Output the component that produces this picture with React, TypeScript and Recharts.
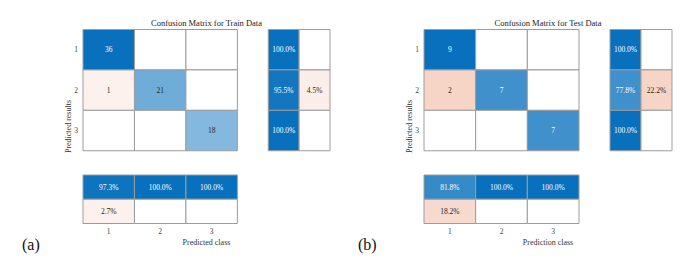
import { ReferenceArea, ScatterChart, XAxis, YAxis } from "recharts";

const classes = ["1", "2", "3"];

// train data, rows = predicted class, cols = true class
const trainCounts = [
  [36, 0, 0],
  [1, 21, 0],
  [0, 0, 18],
];
const trainRowCorrect = [100.0, 95.5, 100.0];
const trainRowWrong = [0, 4.5, 0];
const trainColCorrect = [97.3, 100.0, 100.0];
const trainColWrong = [2.7, 0, 0];

// test data
const testCounts = [
  [9, 0, 0],
  [2, 7, 0],
  [0, 0, 7],
];
const testRowCorrect = [100.0, 77.8, 100.0];
const testRowWrong = [0, 22.2, 0];
const testColCorrect = [81.8, 100.0, 100.0];
const testColWrong = [18.2, 0, 0];

const serif = "'Liberation Serif', 'Times New Roman', serif";
const gridStroke = "#9c9c9c";
const SUM_START = 3.6;
const SUM_SIZE = 0.6;
const DOMAIN_MAX = SUM_START + 2 * SUM_SIZE;

const mix = (rgb: number[], t: number) => {
  const c = rgb.map((v) => Math.round(255 - t * (255 - v)));
  return `rgb(${c[0]}, ${c[1]}, ${c[2]})`;
};
const blueFill = (t: number) => mix([8, 112, 188], t);
const redFill = (t: number) => mix([217, 83, 25], 0.06 + 0.85 * t);

type Cell = {
  key: string;
  x1: number;
  x2: number;
  y1: number;
  y2: number;
  fill: string;
  text: string;
  textColor: string;
};

const pct = (v: number) => `${v.toFixed(1)}%`;

function buildCells(
  counts: number[][],
  rowCorrect: number[],
  rowWrong: number[],
  colCorrect: number[],
  colWrong: number[]
): Cell[] {
  const cells: Cell[] = [];
  const max = Math.max(...counts.flat());
  const push = (key: string, x1: number, x2: number, y1: number, y2: number, value: number, t: number, good: boolean, text: string) => {
    const empty = value === 0;
    cells.push({
      key,
      x1,
      x2,
      y1,
      y2,
      fill: empty ? "#ffffff" : good ? blueFill(t) : redFill(t),
      text: empty ? "" : text,
      textColor: good && t > 0.7 ? "#ffffff" : "#262626",
    });
  };

  counts.forEach((row, r) =>
    row.forEach((v, c) => push(`m${r}${c}`, c, c + 1, r, r + 1, v, v / max, r === c, String(v)))
  );
  rowCorrect.forEach((v, r) =>
    push(`rc${r}`, SUM_START, SUM_START + SUM_SIZE, r, r + 1, v, v / 100, true, pct(v))
  );
  rowWrong.forEach((v, r) =>
    push(`rw${r}`, SUM_START + SUM_SIZE, DOMAIN_MAX, r, r + 1, v, v / 100, false, pct(v))
  );
  colCorrect.forEach((v, c) =>
    push(`cc${c}`, c, c + 1, SUM_START, SUM_START + SUM_SIZE, v, v / 100, true, pct(v))
  );
  colWrong.forEach((v, c) =>
    push(`cw${c}`, c, c + 1, SUM_START + SUM_SIZE, DOMAIN_MAX, v, v / 100, false, pct(v))
  );
  return cells;
}

type PanelProps = {
  left: number;
  width: number;
  plotLeft: number;
  plotRight: number;
  title: string;
  xLabel: string;
  tag: string;
  tagLeft: number;
  cells: Cell[];
};

const PLOT_TOP = 29.5;
const PLOT_BOTTOM = 223.5;
const HEIGHT = 266;
const tickValues = [0.5, 1.5, 2.5];
const serifStyle = { fontFamily: serif };

function MatrixPanel({ left, width, plotLeft, plotRight, title, xLabel, tag, tagLeft, cells }: PanelProps) {
  return (
    <div style={{ position: "absolute", left, top: 0, width, height: HEIGHT, fontFamily: serif }}>
      <div
        style={{
          position: "absolute",
          left: plotLeft,
          width: plotRight - plotLeft,
          top: 19.2,
          textAlign: "center",
          fontSize: 8.5,
          lineHeight: "9px",
          color: "#222",
          whiteSpace: "nowrap",
        }}
      >
        {title}
      </div>
      <div
        style={{
          position: "absolute",
          left: tagLeft,
          top: 236.6,
          fontSize: 16,
          lineHeight: "16px",
          color: "#111",
        }}
      >
        {tag}
      </div>
      <ScatterChart
        width={width}
        height={HEIGHT}
        style={serifStyle}
        margin={{ top: PLOT_TOP, right: width - plotRight, bottom: HEIGHT - PLOT_BOTTOM - 30, left: plotLeft - 20 }}
      >
        <XAxis
          type="number"
          dataKey="x"
          domain={[0, DOMAIN_MAX]}
          allowDataOverflow
          ticks={tickValues}
          interval={0}
          tickFormatter={(v) => classes[Math.floor(v)]}
          axisLine={false}
          tickLine={false}
          tickSize={3}
          tickMargin={2}
          height={30}
          tick={{ fontSize: 7.5, fill: "#444", style: serifStyle }}
          label={{ value: xLabel, position: "insideBottom", offset: 9, fontSize: 8, fill: "#333", style: serifStyle }}
        />
        <YAxis
          type="number"
          dataKey="y"
          reversed
          domain={[0, DOMAIN_MAX]}
          allowDataOverflow
          ticks={tickValues}
          interval={0}
          tickFormatter={(v) => classes[Math.floor(v)]}
          axisLine={false}
          tickLine={false}
          tickSize={3}
          tickMargin={2}
          width={20}
          tick={{ fontSize: 7.5, fill: "#444", style: serifStyle }}
          label={{
            value: "Predicted results",
            angle: -90,
            position: "insideLeft",
            offset: 5,
            fontSize: 8,
            fill: "#333",
            style: { textAnchor: "middle", fontFamily: serif },
          }}
        />
        {cells.map((cell) => (
          <ReferenceArea
            key={cell.key}
            x1={cell.x1}
            x2={cell.x2}
            y1={cell.y1}
            y2={cell.y2}
            fill={cell.fill}
            fillOpacity={1}
            stroke={gridStroke}
            strokeWidth={1}
            ifOverflow="visible"
            label={{ value: cell.text, position: "center", fill: cell.textColor, fontSize: 7.5, style: serifStyle }}
          />
        ))}
      </ScatterChart>
    </div>
  );
}

export default function App() {
  const trainCells = buildCells(trainCounts, trainRowCorrect, trainRowWrong, trainColCorrect, trainColWrong);
  const testCells = buildCells(testCounts, testRowCorrect, testRowWrong, testColCorrect, testColWrong);

  return (
    <div style={{ position: "absolute", left: 0, top: 0, width: 700, height: HEIGHT, background: "#fff" }}>
      <MatrixPanel
        left={0}
        width={350}
        plotLeft={83}
        plotRight={330}
        title="Confusion Matrix for Train Data"
        xLabel="Predicted class"
        tag="(a)"
        tagLeft={22}
        cells={trainCells}
      />
      <MatrixPanel
        left={350}
        width={350}
        plotLeft={74}
        plotRight={322}
        title="Confusion Matrix for Test Data"
        xLabel="Prediction class"
        tag="(b)"
        tagLeft={8}
        cells={testCells}
      />
    </div>
  );
}
